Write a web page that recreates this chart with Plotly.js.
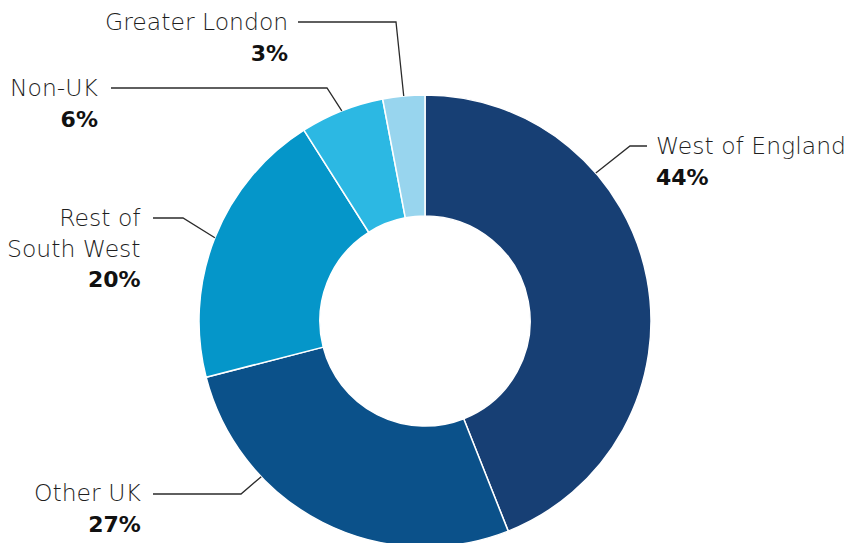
<!DOCTYPE html>
<html>
<head>
<meta charset="utf-8">
<script src="https://cdn.plot.ly/plotly-3.0.1.min.js"></script>
<style>
html,body{margin:0;padding:0;overflow:hidden;background:#fff;}
#chart{width:850px;height:547px;}
</style>
</head>
<body>
<div id="chart"></div>
<script>
// ---- data ----
const categories = ["West of England", "Other UK", "Rest of South West", "Non-UK", "Greater London"];
const displayNames = ["West of England", "Other UK", "Rest of<br>South West", "Non-UK", "Greater London"];
const shares = [44, 27, 20, 6, 3];
const colors = ["#173F74", "#0B518A", "#0596C9", "#2CB8E3", "#98D5EE"];

// ---- layout of labels (pixels) ----
const W = 850, H = 547, T = 95;
const labelLayout = [
  {frac: 0.31, side: "right", textX: 655, lineY: 146, elbowX: 630, endX: 647, blockY: 161},
  {frac: 0.70, side: "left",  textX: 142, lineY: 494, elbowX: 241, endX: 153, blockY: 508},
  {frac: 0.50, side: "left",  textX: 142, lineY: 218, elbowX: 183, endX: 153, blockY: 248},
  {frac: 0.50, side: "left",  textX: 100, lineY: 88,  elbowX: 327, endX: 111, blockY: 103},
  {frac: 0.50, side: "left",  textX: 289, lineY: 22,  elbowX: 396, endX: 298, blockY: 37}
];

const R = Math.min(W, H - T) / 2;
const cx = W / 2, cy = T + R;
const px = x => x / W;
const py = y => 1 - (y - T) / (H - T);

const total = shares.reduce((a, b) => a + b, 0);
let cum = 0;
const shapes = [], annotations = [];
shares.forEach((v, i) => {
  const L = labelLayout[i];
  const a0 = cum / total * 2 * Math.PI;
  const a1 = (cum + v) / total * 2 * Math.PI;
  cum += v;
  const a = a0 + (a1 - a0) * L.frac;
  const ex = cx + R * Math.sin(a), ey = cy - R * Math.cos(a);
  shapes.push({
    type: "path", xref: "paper", yref: "paper",
    path: `M ${px(ex)} ${py(ey)} L ${px(L.elbowX)} ${py(L.lineY)} L ${px(L.endX)} ${py(L.lineY)}`,
    line: {color: "#2b2b2b", width: 1.3}
  });
  annotations.push({
    xref: "paper", yref: "paper",
    x: px(L.textX), y: py(L.blockY),
    xanchor: L.side === "left" ? "right" : "left",
    yanchor: "middle",
    align: L.side === "left" ? "right" : "left",
    showarrow: false,
    borderpad: 0,
    text: `${displayNames[i]}<br><b style="color:#111;font-size:22px">${shares[i]}%</b>`,
    font: {family: "'DejaVu Sans', sans-serif", size: 23.5, color: "#1e1e1e", weight: 200}
  });
});

const trace = {
  type: "pie",
  labels: categories,
  values: shares,
  hole: 0.465,
  sort: false,
  direction: "clockwise",
  rotation: 0,
  marker: {colors: colors, line: {color: "#ffffff", width: 1.5}},
  textinfo: "none",
  hoverinfo: "label+percent",
  showlegend: false
};

const layout = {
  width: W, height: H,
  margin: {l: 0, r: 0, t: T, b: 0, pad: 0},
  paper_bgcolor: "#ffffff",
  plot_bgcolor: "#ffffff",
  showlegend: false,
  shapes: shapes,
  annotations: annotations
};

Plotly.newPlot("chart", [trace], layout, {displayModeBar: false, staticPlot: true});
</script>
</body>
</html>
